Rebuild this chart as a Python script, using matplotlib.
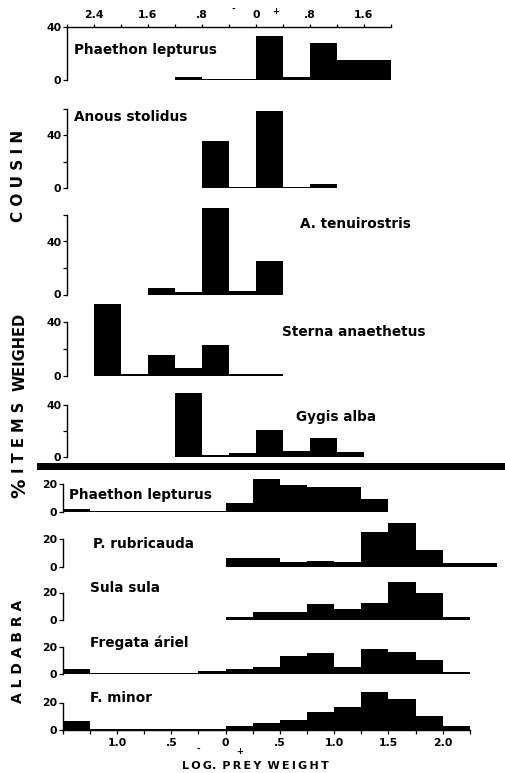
import matplotlib
matplotlib.use("Agg")
import matplotlib.pyplot as plt
from matplotlib.patches import Rectangle

plt.rcParams['font.family'] = ['DejaVu Sans']

W, H = 506, 773

# ---------------- DATA ----------------
# Cousin (bin width 0.4 on log prey weight, top axis)
cousin_width = 0.4
phaethon_c_x = [-1.2, -0.8, -0.4, 0.0, 0.4, 0.8, 1.2, 1.6]
phaethon_c_y = [2.5, 1, 1, 33, 2, 28, 15, 15]
anous_x = [-0.8, -0.4, 0.0, 0.4, 0.8]
anous_y = [35.5, 1, 58, 1, 3]
tenui_x = [-1.6, -1.2, -0.8, -0.4, 0.0]
tenui_y = [5, 2, 65, 2.5, 25]
sterna_x = [-2.4, -2.0, -1.6, -1.2, -0.8, -0.4, 0.0]
sterna_y = [54, 1, 15.5, 5.7, 23, 1, 1]
gygis_x = [-1.2, -0.8, -0.4, 0.0, 0.4, 0.8, 1.2]
gygis_y = [49, 1, 2.5, 20.7, 4.4, 14.3, 3.9]

# Aldabra (bin width 0.25, bottom axis)
aldabra_width = 0.25
phaethon_a_x = [-1.5, -1.25, -1.0, -0.75, -0.5, -0.25, 0.0, 0.25, 0.5, 0.75, 1.0, 1.25]
phaethon_a_y = [2, 0.7, 0.7, 0.7, 0.7, 0.7, 6.5, 24, 19.4, 18.2, 17.7, 9]
rubri_x = [0.0, 0.25, 0.5, 0.75, 1.0, 1.25, 1.5, 1.75, 2.0, 2.25]
rubri_y = [6, 6, 3.6, 4.4, 3.6, 25.5, 31.5, 12, 2.4, 2.4]
sula_x = [0.0, 0.25, 0.5, 0.75, 1.0, 1.25, 1.5, 1.75, 2.0]
sula_y = [2.4, 6, 6, 11.4, 7.8, 12.6, 27.4, 20, 2]
fregata_x = [-1.5, -1.25, -1.0, -0.75, -0.5, -0.25, 0.0, 0.25, 0.5, 0.75, 1.0, 1.25, 1.5, 1.75, 2.0]
fregata_y = [3.6, 0.7, 0.7, 0.7, 0.7, 2.4, 3.6, 5.6, 13.6, 15.3, 5.6, 18.2, 16, 10.4, 2]
minor_x = [-1.5, -1.25, -1.0, -0.75, -0.5, -0.25, 0.0, 0.25, 0.5, 0.75, 1.0, 1.25, 1.5, 1.75, 2.0]
minor_y = [6.8, 0.7, 0.7, 0.7, 0.7, 0.7, 2.9, 4.8, 7.3, 13.3, 16.5, 27.9, 22.5, 10.4, 3.2]

top_tick_pos = [-2.8, -2.4, -2.0, -1.6, -1.2, -0.8, -0.4, 0.0, 0.4, 0.8, 1.2, 1.6, 2.0]
top_tick_lab = ['', '2.4', '', '1.6', '', '.8', '', '0', '', '.8', '', '1.6', '']
bot_tick_pos = [-1.5, -1.25, -1.0, -0.75, -0.5, -0.25, 0.0, 0.25, 0.5, 0.75, 1.0, 1.25, 1.5, 1.75, 2.0, 2.25]
bot_tick_lab = ['', '', '1.0', '', '.5', '', '0', '', '.5', '', '1.0', '', '1.5', '', '2.0', '']

fig = plt.figure(figsize=(W / 100, H / 100), dpi=100)

TICK_FS = 7.8


def make_ax(x0, x1, zero_y, ppu, ymax, xlim, ybound, yticks, ylabels):
    h = ymax * ppu
    ax = fig.add_axes([x0 / W, 1 - zero_y / H, (x1 - x0) / W, h / H])
    ax.set_xlim(*xlim)
    ax.set_ylim(0, ymax)
    ax.patch.set_visible(False)
    for s in ['top', 'right', 'bottom']:
        ax.spines[s].set_visible(False)
    ax.spines['left'].set_bounds(0, ybound)
    ax.spines['left'].set_linewidth(1.0)
    ax.set_xticks([])
    ax.set_yticks(yticks)
    ax.set_yticklabels(ylabels, fontsize=TICK_FS, fontweight='bold')
    ax.tick_params(axis='y', direction='out', length=3, width=0.9, pad=1)
    return ax


# ---------- Cousin panels ----------
TX0, TX1, TXL = 66.7, 391, (-2.8, 2.0)
cousin = [
    (phaethon_c_x, phaethon_c_y, 80, 1.325, 40, 40, [0, 40], ['0', '40']),
    (anous_x, anous_y, 188, 1.325, 70, 60, [0, 20, 40, 60], ['0', '', '40', '']),
    (tenui_x, tenui_y, 294.5, 1.325, 70, 60, [0, 20, 40, 60], ['0', '', '40', '']),
    (sterna_x, sterna_y, 375.5, 1.33, 70, 40, [0, 20, 40], ['0', '', '40']),
    (gygis_x, gygis_y, 456.7, 1.29, 70, 40, [0, 20, 40], ['0', '', '40']),
]
cax = []
for xs, ys, zy, ppu, ymax, yb, yt, yl in cousin:
    ax = make_ax(TX0, TX1, zy, ppu, ymax, TXL, yb, yt, yl)
    ax.bar(xs, ys, width=cousin_width, align='edge', color='black', linewidth=0)
    cax.append(ax)

# top x axis on the first panel
ax0 = cax[0]
ax0.spines['top'].set_visible(True)
ax0.spines['top'].set_linewidth(1.0)
ax0.xaxis.set_ticks_position('top')
ax0.set_xticks(top_tick_pos)
ax0.set_xticklabels(top_tick_lab, fontsize=TICK_FS, fontweight='bold')
ax0.tick_params(axis='x', direction='out', length=2.5, width=0.9, pad=2.5)
fig.text(233 / W, 1 - 9 / H, '-', fontsize=6, fontweight='bold', ha='center', va='center')
fig.text(276 / W, 1 - 11 / H, '+', fontsize=6, fontweight='bold', ha='center', va='center')

# ---------- Aldabra panels ----------
BX0, BX1, BXL = 62.7, 497.1, (-1.5, 2.5)
aldabra = [
    (phaethon_a_x, phaethon_a_y, 511.7),
    (rubri_x, rubri_y, 566.7),
    (sula_x, sula_y, 620),
    (fregata_x, fregata_y, 674.3),
    (minor_x, minor_y, 730),
]
bax = []
for xs, ys, zy in aldabra:
    ax = make_ax(BX0, BX1, zy, 1.375, 35, BXL, 20, [0, 20], ['0', '20'])
    ax.bar(xs, ys, width=aldabra_width, align='edge', color='black', linewidth=0)
    bax.append(ax)

axl = bax[-1]
axl.spines['bottom'].set_visible(True)
axl.spines['bottom'].set_linewidth(1.0)
axl.spines['bottom'].set_bounds(-1.5, 2.25)
axl.set_xticks(bot_tick_pos)
axl.set_xticklabels(bot_tick_lab, fontsize=TICK_FS, fontweight='bold')
axl.tick_params(axis='x', direction='out', length=3, width=0.9, pad=3)
fig.text(198 / W, 1 - 749 / H, '-', fontsize=6, fontweight='bold', ha='center', va='center')
fig.text(240 / W, 1 - 751 / H, '+', fontsize=6, fontweight='bold', ha='center', va='center')
fig.text(255 / W, 1 - 766 / H, 'L\u2009O\u2009G.\u2009 P\u2009R\u2009E\u2009Y\u2009 W\u2009E\u2009I\u2009G\u2009H\u2009T',
         fontsize=8, fontweight='bold', ha='center', va='center')

# separator
fig.add_artist(Rectangle((37 / W, 1 - 470 / H), (506 - 37) / W, 7 / H,
                         transform=fig.transFigure, color='black', linewidth=0))

# species labels
species = [
    ('Phaethon lepturus', 74, 50),
    ('Anous stolidus', 74, 117),
    ('A. tenuirostris', 300, 224),
    ('Sterna anaethetus', 282, 332),
    ('Gygis alba', 296, 417),
    ('Phaethon lepturus', 69, 495),
    ('P. rubricauda', 93, 544),
    ('Sula sula', 90, 588),
    ('Fregata áriel', 90, 643),
    ('F. minor', 90, 698),
]
for name, x, y in species:
    fig.text(x / W, 1 - y / H, name, fontsize=9.8, fontweight='bold', ha='left', va='center')

# vertical labels
fig.text(19 / W, 1 - 176 / H, 'C O U S I N', rotation=90, fontsize=11, fontweight='bold',
         ha='center', va='center')
fig.text(20 / W, 1 - 352 / H, 'WEIGHED', rotation=90, fontsize=10.5, fontweight='bold',
         ha='center', va='center')
fig.text(20 / W, 1 - 437 / H, 'I T E M S', rotation=90, fontsize=10.5, fontweight='bold',
         ha='center', va='center')
fig.text(20 / W, 1 - 488 / H, '%', rotation=90, fontsize=14, fontweight='bold',
         ha='center', va='center')
fig.text(18 / W, 1 - 651 / H, 'A L D A B R A', rotation=90, fontsize=10, fontweight='bold',
         ha='center', va='center')

fig.savefig('out.png', dpi=100)
